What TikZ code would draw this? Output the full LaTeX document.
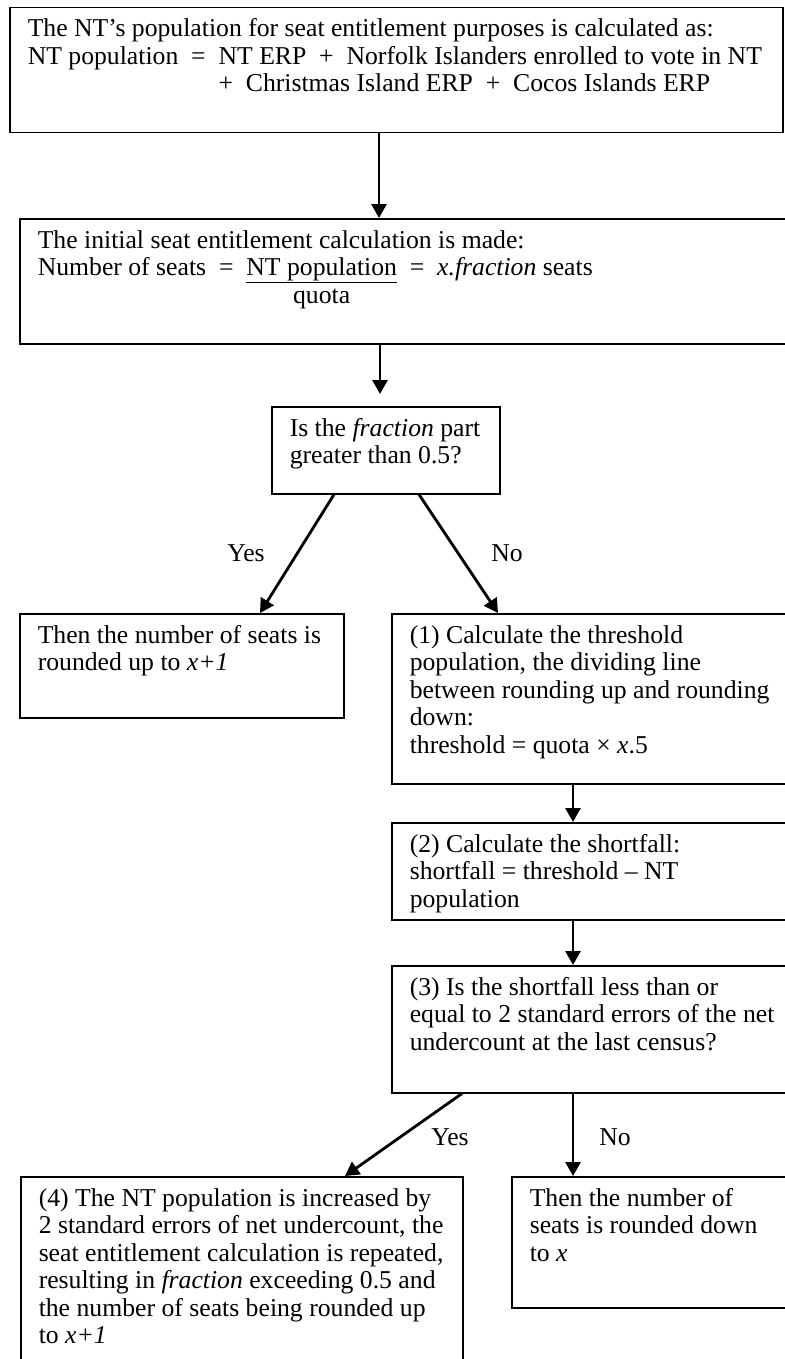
\documentclass[tikz,border=0pt]{standalone}
\usepackage{fontspec}
\setmainfont{Liberation Serif}
\usepackage{calc}
\usetikzlibrary{arrows.meta}
\tikzset{>={Triangle[length=14pt,width=15pt]}}
\newcommand{\flowtext}[3]{\parbox[t][#2pt][t]{#1pt}{\raggedright\strut #3}}

\begin{document}
\begin{tikzpicture}[x=1pt,y=-1pt,
    every node/.style={font=\fontsize{25.7}{27.5}\selectfont},
    stepbox/.style={draw,line width=1.5pt,anchor=north west,inner xsep=18pt,inner ysep=10pt},
    flow/.style={->,line width=2.8pt}]
    \useasboundingbox (0,0) rectangle (784,1359);
    % boxes
    \node[stepbox] (ntpop) at (9,7) {\flowtext{737}{105}{The NT's population for seat entitlement purposes is calculated as:\\
        NT population\enspace=\enspace NT ERP\enspace+\enspace Norfolk Islanders enrolled to vote in NT\\
        \hphantom{NT population\enspace=\enspace}+\enspace Christmas Island ERP\enspace+\enspace Cocos Islands ERP}};
    \node[stepbox] (initcalc) at (19,218) {\flowtext{764}{105}{The initial seat entitlement calculation is made:\\
        Number of seats\enspace=\enspace\underline{NT population}\enspace=\enspace\textit{x.fraction} seats\\
        \hphantom{Number of seats\enspace=\enspace}\makebox[\widthof{NT population}]{quota}}};
    \node[stepbox] (fracq) at (271,406) {\flowtext{192}{67}{Is the \textit{fraction} part\\greater than 0.5?}};
    \node[stepbox] (roundup) at (19,613) {\flowtext{288}{84}{Then the number of seats is\\rounded up to \textit{x+1}}};
    \node[stepbox] (thresh) at (391,613) {\flowtext{384}{150}{(1) Calculate the threshold\\population, the dividing line\\between rounding up and rounding\\down:\\threshold = quota × \textit{x}.5}};
    \node[stepbox] (shortf) at (391,822) {\flowtext{384}{77}{(2) Calculate the shortfall:\\shortfall = threshold -- NT\\population}};
    \node[stepbox] (stderr) at (391,965) {\flowtext{384}{107}{(3) Is the shortfall less than or\\equal to 2 standard errors of the net\\undercount at the last census?}};
    \node[stepbox] (increase) at (20,1176) {\flowtext{406}{180}{(4) The NT population is increased by\\2 standard errors of net undercount, the\\seat entitlement calculation is repeated,\\resulting in \textit{fraction} exceeding 0.5 and\\the number of seats being rounded up\\to \textit{x+1}}};
    \node[stepbox] (rounddown) at (511,1176) {\flowtext{264}{111}{Then the number of\\seats is rounded down\\to \textit{x}}};
    % arrows
    \draw[flow] (ntpop.south -| 379,0) -- (initcalc.north -| 379,0);
    \draw[flow,shorten >=12pt] (initcalc.south -| 380,0) -- (fracq.north -| 380,0);
    \draw[flow] (fracq.south -| 334,0) -- (roundup.north -| 260,0);
    \draw[flow] (fracq.south -| 419,0) -- (thresh.north -| 498,0);
    \draw[flow] (thresh.south -| 573,0) -- (shortf.north -| 573,0);
    \draw[flow] (shortf.south -| 573,0) -- (stderr.north -| 573,0);
    \draw[flow] (stderr.south -| 462,0) -- (increase.north -| 345,0);
    \draw[flow] (stderr.south -| 573,0) -- (rounddown.north -| 573,0);
    % labels
    \node (yesfrac) at (246,553) {Yes};
    \node (nofrac) at (507,553) {No};
    \node (yeserr) at (450,1137) {Yes};
    \node (noerr) at (615,1137) {No};
\end{tikzpicture}
\end{document}
